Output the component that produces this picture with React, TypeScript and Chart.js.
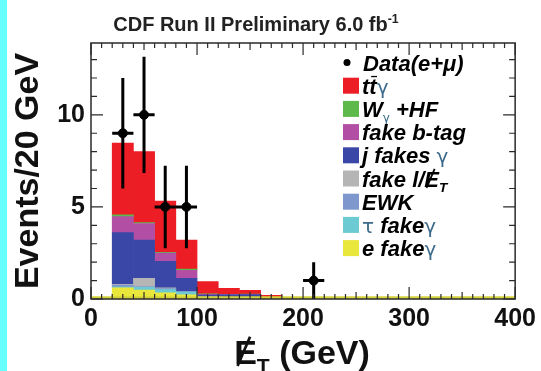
import React, { useEffect, useRef } from 'react';
import { Chart, registerables } from 'chart.js';

Chart.register(...registerables);

// ---------------- data ----------------
const binCenters = [30, 50, 70, 90, 110, 130, 150, 170, 190];
const eFakeGamma = [0.6, 0.49, 0.34, 0.22, 0.05, 0.03, 0.02, 0.01, 0.01];
const tauFakeGamma = [0.05, 0.14, 0.17, 0.15, 0.03, 0.02, 0.01, 0.01, 0];
const ewk = [0.1, 0.05, 0.05, 0.05, 0.03, 0.02, 0.01, 0, 0];
const fakeLepMet = [0.05, 0.44, 0.05, 0, 0, 0, 0, 0, 0];
const jFakesGamma = [2.8, 2.08, 1.43, 0.7, 0.1, 0.15, 0.2, 0.02, 0];
const fakeBtag = [0.87, 0.9, 0.45, 0.43, 0.05, 0.02, 0.02, 0.01, 0];
const wGammaHF = [0.1, 0.05, 0.05, 0.07, 0.02, 0.01, 0.01, 0, 0];
const ttGamma = [3.9, 3.85, 2.77, 1.58, 0.66, 0.33, 0.2, 0.15, 0.03];

const dataEt = [30, 50, 70, 90, 210];
const dataEvents = [9, 10, 5, 5, 1];
const dataErrors = [3, 3.16, 2.24, 2.24, 1];
const dataHalfBin = [10, 10, 10, 10, 10];

const seriesNames = ['e fake γ', 'τ fake γ', 'EWK', 'fake l/E̸T', 'j fakes γ', 'fake b-tag', 'Wγ+HF', 'tt̄γ'];
const seriesValues = [eFakeGamma, tauFakeGamma, ewk, fakeLepMet, jFakesGamma, fakeBtag, wGammaHF, ttGamma];
const seriesColors = ['#e9e63c', '#6ccad3', '#7e97cd', '#b5b5b5', '#3a47a6', '#b24fa4', '#5eb94b', '#ec1d25'];

const titleText = 'CDF Run II Preliminary 6.0 fb';
const titleSup = '-1';
const yTitle = 'Events/20 GeV';

// ---------------- drawing helpers ----------------
type Seg = { t: string; sub?: boolean; sup?: boolean; bar?: boolean; slash?: boolean; greek?: boolean };

const FAM = '"Liberation Sans", Arial, sans-serif';

function segFont(s: Seg, size: number, style: string) {
  const fs = s.sub || s.sup ? size * 0.62 : size;
  if (s.greek) return { font: `${Math.round(fs * 0.9)}px "DejaVu Sans", sans-serif`, fs };
  return { font: `${style} ${fs}px ${FAM}`, fs };
}

function richWidth(ctx: CanvasRenderingContext2D, segs: Seg[], size: number, style: string) {
  let w = 0;
  for (const s of segs) {
    ctx.font = segFont(s, size, style).font;
    w += ctx.measureText(s.t).width;
  }
  return w;
}

function drawRich(
  ctx: CanvasRenderingContext2D,
  segs: Seg[],
  x: number,
  baseline: number,
  size: number,
  style: string,
  color: string,
  greekColor: string
) {
  let cx = x;
  ctx.textAlign = 'left';
  ctx.textBaseline = 'alphabetic';
  for (const s of segs) {
    const { font } = segFont(s, size, style);
    ctx.font = font;
    ctx.fillStyle = s.greek ? greekColor : color;
    let dy = 0;
    if (s.sub) dy = size * 0.25;
    if (s.sup) dy = -size * 0.42;
    ctx.fillText(s.t, cx, baseline + dy);
    const w = ctx.measureText(s.t).width;
    ctx.strokeStyle = color;
    if (s.bar) {
      ctx.lineWidth = Math.max(1.2, size * 0.06);
      ctx.beginPath();
      ctx.moveTo(cx + w * 0.25, baseline - size * 0.78);
      ctx.lineTo(cx + w * 1.05, baseline - size * 0.78);
      ctx.stroke();
    }
    if (s.slash) {
      ctx.lineWidth = Math.max(1.4, size * 0.08);
      ctx.beginPath();
      ctx.moveTo(cx + w * 0.15, baseline + size * 0.06);
      ctx.lineTo(cx + w * 0.7, baseline - size * 0.8);
      ctx.stroke();
    }
    cx += w;
  }
  return cx;
}

const legendRows: Seg[][] = [
  [{ t: 't' }, { t: 't', bar: true }, { t: 'γ', greek: true }],
  [{ t: 'W' }, { t: 'γ', sub: true, greek: true }, { t: ' +HF' }],
  [{ t: 'fake b-tag' }],
  [{ t: 'j fakes ' }, { t: 'γ', greek: true }],
  [{ t: 'fake l/' }, { t: 'E', slash: true }, { t: 'T', sub: true }],
  [{ t: 'EWK' }],
  [{ t: 'τ', greek: true }, { t: ' fake' }, { t: 'γ', greek: true }],
  [{ t: 'e fake' }, { t: 'γ', greek: true }],
];
// legend rows listed top→bottom correspond to series indexes:
const legendSeriesIndex = [7, 6, 5, 4, 3, 2, 1, 0];

const decorPlugin = {
  id: 'cdfDecor',
  afterDatasetsDraw(chart: any) {
    const { ctx, scales } = chart;
    const x = scales.x;
    const y = scales.y;
    ctx.save();
    // yellow baseline along y = 0
    ctx.strokeStyle = '#d4d43a';
    ctx.lineWidth = 2.5;
    ctx.beginPath();
    ctx.moveTo(x.getPixelForValue(0), y.getPixelForValue(0) - 1.5);
    ctx.lineTo(x.getPixelForValue(400), y.getPixelForValue(0) - 1.5);
    ctx.stroke();
    // error bars of the data
    ctx.strokeStyle = '#000';
    ctx.lineWidth = 3;
    for (let i = 0; i < dataEt.length; i++) {
      const px = x.getPixelForValue(dataEt[i]);
      const py = y.getPixelForValue(dataEvents[i]);
      ctx.beginPath();
      ctx.moveTo(px, y.getPixelForValue(dataEvents[i] - dataErrors[i]));
      ctx.lineTo(px, y.getPixelForValue(dataEvents[i] + dataErrors[i]));
      ctx.moveTo(x.getPixelForValue(dataEt[i] - dataHalfBin[i]), py);
      ctx.lineTo(x.getPixelForValue(dataEt[i] + dataHalfBin[i]), py);
      ctx.stroke();
    }
    ctx.restore();
  },
  afterDraw(chart: any) {
    const { ctx, chartArea, scales } = chart;
    const x = scales.x;
    const y = scales.y;
    const { left, right, top, bottom } = chartArea;
    ctx.save();
    // frame
    ctx.strokeStyle = '#2a2a2a';
    ctx.lineWidth = 1.5;
    ctx.strokeRect(left, top, right - left, bottom - top);
    // ticks (inside)
    ctx.lineWidth = 1.2;
    ctx.beginPath();
    for (let v = 0; v <= 400; v += 10) {
      const px = x.getPixelForValue(v);
      const len = v % 100 === 0 ? 12 : v % 50 === 0 ? 7 : 5;
      ctx.moveTo(px, bottom);
      ctx.lineTo(px, bottom - len);
      ctx.moveTo(px, top);
      ctx.lineTo(px, top + len);
    }
    for (let v = 0; v <= 13; v += 1) {
      const py = y.getPixelForValue(v);
      const len = v % 5 === 0 ? 12 : 6;
      ctx.moveTo(left, py);
      ctx.lineTo(left + len, py);
      ctx.moveTo(right, py);
      ctx.lineTo(right - len, py);
    }
    ctx.stroke();

    // title
    const tSegs: Seg[] = [{ t: titleText }, { t: titleSup, sup: true }];
    const tw = richWidth(ctx, tSegs, 20, 'bold');
    drawRich(ctx, tSegs, 256 - tw / 2, 31, 20, 'bold', '#222', '#222');

    // x title
    const xSegs: Seg[] = [{ t: 'E', slash: true }, { t: 'T', sub: true }, { t: ' (GeV)' }];
    const xw = richWidth(ctx, xSegs, 34, 'bold');
    drawRich(ctx, xSegs, 302 - xw / 2, 364, 34, 'bold', '#111', '#111');

    // legend
    const lx = 343;
    const rowTop = 62.5;
    const pitch = 23.2;
    ctx.fillStyle = '#000';
    ctx.beginPath();
    ctx.arc(lx + 4, rowTop, 3.5, 0, Math.PI * 2);
    ctx.fill();
    drawRich(ctx, [{ t: 'Data(e+' }, { t: 'μ' }, { t: ')' }], 363, rowTop + 8, 22, 'italic bold', '#000', '#000');
    for (let r = 0; r < legendRows.length; r++) {
      const cy = rowTop + pitch * (r + 1);
      ctx.fillStyle = seriesColors[legendSeriesIndex[r]];
      ctx.fillRect(lx, cy - 8, 16, 16);
      drawRich(ctx, legendRows[r], 362, cy + 8, 22, 'italic bold', '#000', '#3c6a8a');
    }
    ctx.restore();
  },
};

export default function App() {
  const canvasRef = useRef<HTMLCanvasElement | null>(null);

  useEffect(() => {
    const canvas = canvasRef.current;
    if (!canvas) return;
    const barSets = seriesValues.map((vals, i) => ({
      type: 'bar' as const,
      label: seriesNames[i],
      data: binCenters.map((c, j) => ({ x: c, y: vals[j] })),
      backgroundColor: seriesColors[i],
      borderWidth: 0,
      barPercentage: 1,
      categoryPercentage: 1,
      stack: 'mc',
    }));
    const chart = new Chart(canvas, {
      type: 'bar',
      data: {
        datasets: [
          {
            type: 'scatter' as const,
            label: 'Data(e+μ)',
            data: dataEt.map((e, i) => ({ x: e, y: dataEvents[i] })),
            backgroundColor: '#000',
            borderColor: '#000',
            pointRadius: 4.5,
            stack: 'data',
          } as any,
          ...barSets,
        ],
      },
      options: {
        responsive: false,
        animation: false,
        devicePixelRatio: 1,
        layout: { padding: { left: 0, right: 25, top: 43, bottom: 0 } },
        plugins: {
          legend: { display: false },
          tooltip: { enabled: false },
          title: { display: false },
        },
        scales: {
          x: {
            type: 'linear',
            min: 0,
            max: 400,
            offset: false,
            stacked: true,
            grid: { display: false, drawTicks: false },
            border: { display: false },
            ticks: {
              stepSize: 100,
              padding: 5,
              autoSkip: false,
              maxRotation: 0,
              color: '#111',
              font: { family: FAM, size: 25, weight: 'bold' },
            },
            afterFit: (s: any) => {
              s.height = 72;
            },
          },
          y: {
            type: 'linear',
            min: 0,
            max: 13.9,
            stacked: true,
            grid: { display: false, drawTicks: false },
            border: { display: false },
            ticks: {
              stepSize: 5,
              includeBounds: false,
              padding: 6,
              color: '#111',
              font: { family: FAM, size: 25, weight: 'bold' },
            },
            title: {
              display: true,
              text: yTitle,
              color: '#111',
              font: { family: FAM, size: 34, weight: 'bold' },
              padding: { top: 8, bottom: 0 },
            },
            afterFit: (s: any) => {
              s.width = 91;
            },
          },
        },
      } as any,
      plugins: [decorPlugin],
    });
    return () => chart.destroy();
  }, []);

  return (
    <div
      style={{
        position: 'fixed',
        left: 0,
        top: 0,
        width: 541,
        height: 371,
        background: '#fff',
        overflow: 'hidden',
      }}
    >
      <div style={{ position: 'absolute', left: 0, top: 0, width: 7, height: 371, background: '#66ffff' }} />
      <canvas
        ref={canvasRef}
        width={541}
        height={371}
        style={{ position: 'absolute', left: 0, top: 0, width: 541, height: 371 }}
      />
    </div>
  );
}
